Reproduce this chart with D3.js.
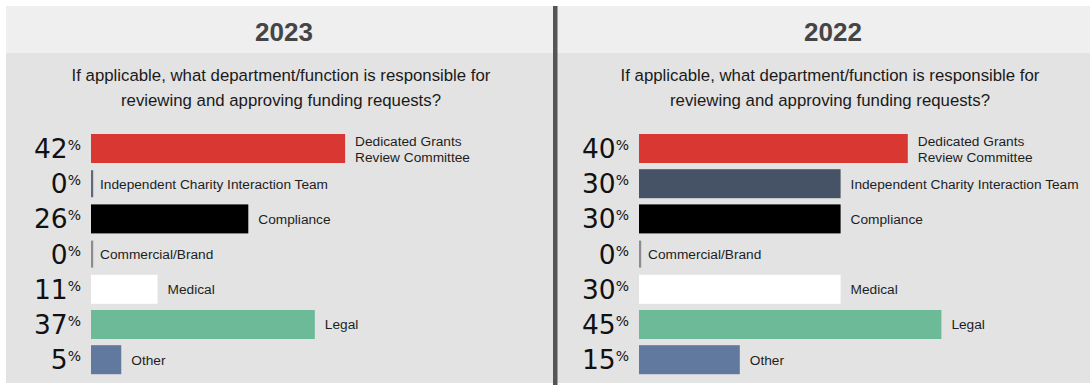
<!DOCTYPE html>
<html>
<head>
<meta charset="utf-8">
<script src="https://cdn.jsdelivr.net/npm/d3@7"></script>
<style>
  html, body { margin: 0; padding: 0; background: #ffffff; }
  svg { display: block; }
</style>
</head>
<body>
<svg id="chart" width="1090" height="385"></svg>
<script>
// ---- data ----
const categories = [
  "Dedicated Grants\nReview Committee",
  "Independent Charity Interaction Team",
  "Compliance",
  "Commercial/Brand",
  "Medical",
  "Legal",
  "Other"
];
const categoryColors = ["#d93832", "#465366", "#000000", "#8c8c8c", "#ffffff", "#6cba98", "#62799f"];
const zeroLineColors = ["#d93832", "#5f6879", "#000000", "#8c8c8c", "#ffffff", "#6cba98", "#62799f"];
const years = ["2023", "2022"];
const values2023 = [42, 0, 26, 0, 11, 37, 5];
const values2022 = [40, 30, 30, 0, 30, 45, 15];
const question = ["If applicable, what department/function is responsible for",
                  "reviewing and approving funding requests?"];

// ---- layout ----
const svg = d3.select("#chart");
const W = 1090, H = 385;
const font = "'Liberation Sans', Arial, sans-serif";

const panels = [
  { year: years[0], values: values2023, x0: 6,   x1: 553,  barX: 91,  pxPerUnit: 6.05, center: 281 },
  { year: years[1], values: values2022, x0: 557, x1: 1090, barX: 639, pxPerUnit: 6.72, center: 830 }
];

const y = d3.scaleBand()
  .domain(categories)
  .range([134, 134 + 7 * 35.2 - 6.2])
  .paddingInner(0.176)
  .paddingOuter(0);

panels.forEach(p => {
  const g = svg.append("g");
  // body background
  g.append("rect").attr("x", p.x0).attr("y", 6).attr("width", p.x1 - p.x0).attr("height", H - 8)
    .attr("fill", "#e3e3e3");
  // header band
  g.append("rect").attr("x", p.x0).attr("y", 6).attr("width", p.x1 - p.x0).attr("height", 47)
    .attr("fill", "#efefef");
  // year title
  g.append("text").attr("x", p.center + 3).attr("y", 41)
    .attr("text-anchor", "middle")
    .attr("font-family", font).attr("font-weight", "bold").attr("font-size", 26)
    .attr("fill", "#454545").text(p.year);
  // question
  question.forEach((line, i) => {
    g.append("text").attr("x", p.center).attr("y", 81 + i * 25)
      .attr("text-anchor", "middle")
      .attr("font-family", font).attr("font-size", 16.8)
      .attr("fill", "#1a1a1a").text(line);
  });

  const maxV = d3.max(p.values);
  const x = d3.scaleLinear().domain([0, maxV]).range([p.barX, p.barX + maxV * p.pxPerUnit]);

  categories.forEach((c, i) => {
    const v = p.values[i];
    const top = y(c), bh = y.bandwidth(), cy = top + bh / 2;
    let labelX;
    if (v > 0) {
      g.append("rect").attr("x", x(0)).attr("y", top)
        .attr("width", x(v) - x(0)).attr("height", bh)
        .attr("fill", categoryColors[i]);
      labelX = x(v) + 10;
    } else {
      g.append("rect").attr("x", x(0)).attr("y", top + 1)
        .attr("width", 2.2).attr("height", bh - 2)
        .attr("fill", zeroLineColors[i]);
      labelX = x(0) + 9;
    }
    // percentage label
    const t = g.append("text").attr("x", p.barX - 10).attr("y", cy + 9.5)
      .attr("text-anchor", "end")
      .attr("font-family", "'DejaVu Sans', sans-serif").attr("fill", "#111");
    t.append("tspan").attr("font-size", 26.5).text(v);
    t.append("tspan").attr("font-size", 14).attr("dy", -8).text("%");

    // category label
    const lines = c.split("\n");
    const lt = g.append("text").attr("x", labelX)
      .attr("font-family", font).attr("font-size", 13.7).attr("fill", "#1e1e1e");
    if (lines.length === 1) {
      lt.attr("y", cy + 5).text(lines[0]);
    } else {
      lines.forEach((ln, k) => {
        lt.append("tspan").attr("x", labelX).attr("y", cy - 3 + k * 16.3).text(ln);
      });
    }
  });
});

// divider
svg.append("rect").attr("x", 553).attr("y", 6).attr("width", 4.5).attr("height", H - 6).attr("fill", "#555555");
</script>
</body>
</html>
